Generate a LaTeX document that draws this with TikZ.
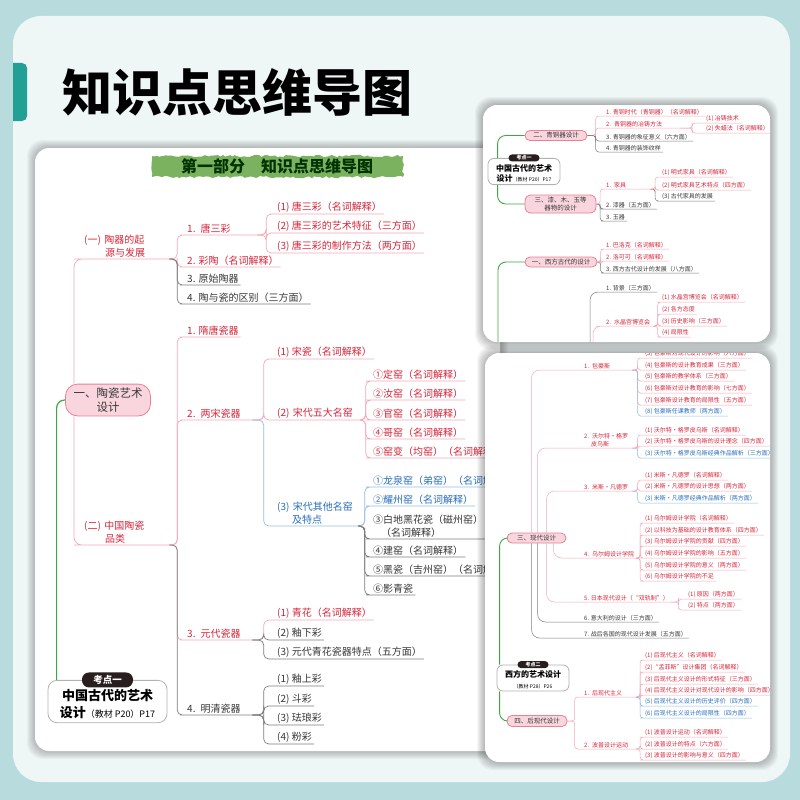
\documentclass[tikz,border=0pt]{standalone}
\usepackage{fontspec}
\setmainfont{Noto Sans CJK SC}
\usepackage{tikz}
\usetikzlibrary{calc,positioning,decorations.pathmorphing}

\definecolor{tealbg}{RGB}{184,220,222}
\definecolor{panel}{RGB}{239,246,246}
\definecolor{tabc}{RGB}{35,160,150}
\definecolor{rdT}{RGB}{214,38,58}
\definecolor{rdL}{RGB}{244,168,184}
\definecolor{gyT}{RGB}{55,55,55}
\definecolor{gyL}{RGB}{125,125,125}
\definecolor{blT}{RGB}{40,110,185}
\definecolor{blL}{RGB}{150,190,230}
\definecolor{bxF}{RGB}{249,214,222}
\definecolor{bxL}{RGB}{232,128,150}
\definecolor{grnL}{RGB}{60,170,65}
\definecolor{bnr}{RGB}{122,178,96}
\definecolor{pill}{RGB}{40,30,30}

\newcommand{\fA}{\fontsize{10}{13}\selectfont}
\newcommand{\fB}{\fontsize{6}{7.5}\selectfont}
\def\lw{.7pt}
\def\rc{5pt}
% bracket link: parent junction -> child underline
\newcommand{\lnk}[3][rdL]{\draw[ln=#1] (#2) -| ($(#2)!.5!(#3.south west)$) |- (#3.south west) -- (#3.south east);}
% straight trunk link
\newcommand{\lnkv}[3][rdL]{\draw[ln=#1, rounded corners=8pt] (#2) |- (#3.south west) -- (#3.south east);}

\tikzset{
  ln/.style={draw=#1, line width=\lw, rounded corners=\rc},
  lf/.style={anchor=south west, inner xsep=2pt, inner ysep=1.2pt, align=left},
  bx/.style={draw=bxL, fill=bxF, line width=.8pt, align=center, text=gyT},
  kd/.style={draw=gray!60, fill=white, line width=.8pt, align=center, text=black},
  kp/.style={fill=pill, text=white, inner sep=0pt},
  grn/.style={draw=grnL, line width=1.2pt, rounded corners=8pt},
  card/.style={fill=white, rounded corners=14pt},
}

\begin{document}
\begin{tikzpicture}[x=1pt, y=-1pt]
\useasboundingbox (0,0) rectangle (800,800);
\fill[tealbg] (0,0) rectangle (800,800);
\fill[panel, rounded corners=28pt] (13,16) rectangle (790,782);
\begin{scope}
  \clip (13,0) rectangle (40,800);
  \fill[tabc, rounded corners=5pt] (0,63) rectangle (27,121);
\end{scope}
\node[anchor=west, inner sep=0pt, font=\fontsize{50}{50}\selectfont\bfseries] (ttl) at (62,92) {知识点思维导图};

% ---- left page
\foreach \k in {1,...,8}
  \fill[black, opacity=.03, rounded corners=16pt] (35-\k,148-\k) rectangle (500+\k,751+\k);
\fill[card] (35,148) rectangle (500,751);
\begin{scope}
\clip[rounded corners=14pt] (35,148) rectangle (500,751);
\pgfmathsetseed{11}
\fill[bnr, decorate, decoration={random steps, segment length=3pt, amplitude=1.2pt}] (152,156) rectangle (403,177);
\node[font=\fontsize{16}{16}\selectfont\bfseries, text=black!80!green] (bn) at (277,166) {第一部分　知识点思维导图};

\node[bx, minimum width=85pt, minimum height=30pt, rounded corners=12pt, font=\fontsize{11.5}{14.5}\selectfont] (tc) at (108,400) {一、陶瓷艺术\\设计};
\node[kd, minimum width=119pt, inner ysep=3.5pt, rounded corners=9pt, font=\fontsize{13}{17}\selectfont\bfseries] (kd1) at (107.5,701.5) {\rule{0pt}{17pt}中国古代的艺术\\设计{\fontsize{9}{17}\mdseries\selectfont（教材 P20）P17}};
\node[kp, minimum width=51pt, minimum height=15pt, rounded corners=7pt, font=\fontsize{9.5}{10}\selectfont\bfseries] (kp1) at (kd1.north) {考点一};
\draw[grn] (tc.west) -| ([xshift=9pt]kd1.north west);

\node[lf, text=rdT, font=\fA, text width=83pt] (t1) at (82,259) {(一) 陶器的起\\\hspace*{21pt}源与发展};
\node[lf, text=rdT, font=\fA, text width=83pt] (t2) at (82,545) {(二) 中国陶瓷\\\hspace*{21pt}品类};
\lnkv{[xshift=-34pt]tc.north}{t1}
\lnkv{[xshift=-34pt]tc.south}{t2}

\node[lf, text=rdT, font=\fA, text width=68pt] (b1) at (185,235) {1. 唐三彩};
\lnk{t1.south east}{b1}
\foreach \n/\y/\cl/\t in {b2/267/rd/{2. 彩陶（名词解释）}, b3/285/gy/{3. 原始陶器}, b4/304/gy/{4. 陶与瓷的区别（三方面）}}{
  \node[lf, text=\cl T, font=\fA] (\n) at (185,\y) {\t};
  \lnk[\cl L]{t1.south east}{\n}
}
\foreach \n/\y/\t in {a1/214/{(1) 唐三彩（名词解释）}, a2/233/{(2) 唐三彩的艺术特征（三方面）}, a3/253/{(3) 唐三彩的制作方法（两方面）}}{
  \node[lf, text=rdT, font=\fA] (\n) at (275,\y) {\t};
  \lnk{b1.south east}{\n}
}

\node[lf, text=rdT, font=\fA] (c1) at (185,337) {1. 隋唐瓷器};
\node[lf, text=rdT, font=\fA, text width=63pt] (c2) at (185,420) {2. 两宋瓷器};
\node[lf, text=rdT, font=\fA, text width=63pt] (c3) at (185,640) {3. 元代瓷器};
\node[lf, text=gyT, font=\fA, text width=63pt] (c4) at (185,715) {4. 明清瓷器};
\lnk{t2.south east}{c1}
\lnk{t2.south east}{c2}
\lnk{t2.south east}{c3}
\lnk[gyL]{t2.south east}{c4}

\node[lf, text=rdT, font=\fA] (d1) at (275,359) {(1) 宋瓷（名词解释）};
\node[lf, text=rdT, font=\fA, text width=81pt] (d2) at (275,420) {(2) 宋代五大名窑};
\node[lf, text=blT, font=\fA, text width=79pt] (d3) at (275,526) {(3) 宋代其他名窑\\\hspace*{15pt}及特点};
\lnk{c2.south east}{d1}
\lnk{c2.south east}{d2}
\lnk[blL]{c2.south east}{d3}

\foreach \n/\y/\t in {e1/381/{①定窑（名词解释）}, e2/400/{②汝窑（名词解释）}, e3/420/{③官窑（名词解释）}, e4/439/{④哥窑（名词解释）}, e5/458/{⑤窑变（均窑）（名词解释）}}{
  \node[lf, text=rdT, font=\fA] (\n) at (371,\y) {\t};
  \lnk{d2.south east}{\n}
}
\foreach \n/\y/\cl/\t in {f1/487/bl/{①龙泉窑（弟窑）（名词解释）}, f2/506/bl/{②耀州窑（名词解释）}, f3/539/gy/{③白地黑花瓷（磁州窑）\\\hspace*{8pt}（名词解释）}, f4/557/gy/{④建窑（名词解释）}, f5/576/gy/{⑤黑瓷（吉州窑）（名词解释）}, f6/595/gy/{⑥影青瓷}}{
  \node[lf, text=\cl T, font=\fA] (\n) at (371,\y) {\t};
  \lnk[\cl L]{d3.south east}{\n}
}
\foreach \n/\y/\cl/\t in {g1/620/rd/{(1) 青花（名词解释）}, g2/640/gy/{(2) 釉下彩}, g3/659/gy/{(3) 元代青花瓷器特点（五方面）}}{
  \node[lf, text=\cl T, font=\fA] (\n) at (275,\y) {\t};
  \lnk[\cl L]{c3.south east}{\n}
}
\foreach \n/\y/\t in {h1/686/{(1) 釉上彩}, h2/706/{(2) 斗彩}, h3/725/{(3) 珐琅彩}, h4/744/{(4) 粉彩}}{
  \node[lf, text=gyT, font=\fA] (\n) at (275,\y) {\t};
  \lnk[gyL]{c4.south east}{\n}
}
\end{scope}

% ---- right top page
\foreach \k in {1,...,8}
  \fill[black, opacity=.035, rounded corners=16pt] (483-\k,105-\k) rectangle (770+\k,342+\k);
\fill[card] (483,105) rectangle (770,342);
\begin{scope}
\clip[rounded corners=14pt] (483,105) rectangle (770,342);
\def\lw{.5pt}
\def\rc{3pt}
\node[kd, minimum width=72pt, inner ysep=2.2pt, rounded corners=6pt, font=\fontsize{8}{10.5}\selectfont\bfseries] (kr) at (524,171.5) {\rule{0pt}{10.6pt}中国古代的艺术\\设计{\fontsize{5}{10.5}\mdseries\selectfont（教材 P20）P17}};
\node[kp, minimum width=31pt, minimum height=7pt, rounded corners=3.5pt, font=\fontsize{5}{5}\selectfont\bfseries] (kp2) at (kr.north) {考点一};
\node[bx, minimum width=62pt, minimum height=10pt, inner sep=1pt, rounded corners=5pt, font=\fontsize{6.5}{8}\selectfont] (qa) at (556,135.5) {二、青铜器设计};
\node[bx, minimum width=71pt, minimum height=18pt, inner sep=1pt, rounded corners=6pt, font=\fontsize{6.5}{8}\selectfont] (qb) at (560.5,204) {三、漆、木、玉等\\器物的设计};
\node[bx, minimum width=72pt, minimum height=10pt, inner sep=1pt, rounded corners=5pt, font=\fontsize{6.5}{8}\selectfont] (qc) at (561,262) {一、西方古代的设计};
\coordinate (gr1) at (498,360);
\coordinate (er) at (590,370);
\draw[grn, line width=.9pt] ([xshift=10pt]kr.north west) |- (qa.west);
\draw[grn, line width=.9pt] ([xshift=10pt]kr.south west) |- (qb.west);
\draw[grn, line width=.9pt] (qc.west) -| (gr1);

\node[lf, text=rdT, font=\fB, text width=72pt] (q2) at (604,128) {2. 青铜器的冶铸方法};
\lnk{qa.east}{q2}
\foreach \n/\y/\cl/\t in {q1/116/rd/{1. 青铜时代（青铜器）（名词解释）}, q3/141/gy/{3. 青铜器的象征意义（六方面）}, q4/152/gy/{4. 青铜器的装饰纹样}}{
  \node[lf, text=\cl T, font=\fB] (\n) at (604,\y) {\t};
  \lnk[\cl L]{qa.east}{\n}
}
\foreach \n/\y/\t in {r1/123/{(1) 冶铸技术}, r2/133/{(2) 失蜡法（名词解释）}}{
  \node[lf, text=rdT, font=\fB] (\n) at (704,\y) {\t};
  \lnk{q2.south east}{\n}
}
\node[lf, text=rdT, font=\fB, text width=42pt] (j1) at (604,189) {1. 家具};
\lnk{qb.east}{j1}
\foreach \n/\y/\t in {j2/209/{2. 漆器（五方面）}, j3/221/{3. 玉器}}{
  \node[lf, text=gyT, font=\fB] (\n) at (604,\y) {\t};
  \lnk[gyL]{qb.east}{\n}
}
\foreach \n/\y/\cl/\t in {k1/177/rd/{(1) 明式家具（名词解释）}, k2/190/rd/{(2) 明式家具艺术特点（四方面）}, k3/201/gy/{(3) 古代家具的发展}}{
  \node[lf, text=\cl T, font=\fB] (\n) at (660,\y) {\t};
  \lnk[\cl L]{j1.south east}{\n}
}
\foreach \n/\y/\cl/\t in {m1/249/rd/{1. 巴洛克（名词解释）}, m2/261/rd/{2. 洛可可（名词解释）}, m3/273/gy/{3. 西方古代设计的发展（八方面）}}{
  \node[lf, text=\cl T, font=\fB] (\n) at (604,\y) {\t};
  \lnk[\cl L]{qc.east}{\n}
}
\node[lf, text=gyT, font=\fB] (w1) at (604,292) {1. 背景（三方面）};
\node[lf, text=rdT, font=\fB, text width=47pt] (w2) at (604,326) {2. 水晶宫博览会};
\lnkv[gyL]{er}{w1}
\lnkv{[xshift=3pt]er}{w2}
\foreach \n/\y/\t in {v1/302/{(1) 水晶宫博览会（名词解释）}, v2/314/{(2) 各方态度}, v3/326/{(3) 历史影响（三方面）}, v4/337/{(4) 局限性}}{
  \node[lf, text=rdT, font=\fB] (\n) at (660,\y) {\t};
  \lnk{w2.south east}{\n}
}
\end{scope}

% ---- right bottom page
\foreach \k in {1,...,8}
  \fill[black, opacity=.035, rounded corners=16pt] (485-\k,353-\k) rectangle (770+\k,762+\k);
\fill[card] (485,353) rectangle (770,762);
\begin{scope}
\clip[rounded corners=14pt] (485,353) rectangle (770,762);
\def\lw{.5pt}
\def\rc{3pt}
\node[bx, minimum width=59pt, minimum height=10pt, inner sep=1pt, rounded corners=5pt, font=\fontsize{6.5}{8}\selectfont] (xd) at (536.5,538) {三、现代设计};
\node[bx, minimum width=60pt, minimum height=11pt, inner sep=1pt, rounded corners=5pt, font=\fontsize{6.5}{8}\selectfont] (xe) at (537,721) {四、后现代设计};
\node[kd, minimum width=72pt, inner ysep=2.2pt, rounded corners=6pt, font=\fontsize{8}{10.5}\selectfont\bfseries] (kq) at (533,678) {\rule{0pt}{10.6pt}西方的艺术设计\\{\fontsize{5}{10.5}\mdseries\selectfont（教材 P28）P26}};
\node[kp, minimum width=31pt, minimum height=7pt, rounded corners=3.5pt, font=\fontsize{5}{5}\selectfont\bfseries] (kp3) at (kq.north) {考点二};
\draw[grn, line width=.9pt] ([xshift=3pt]kq.north west) |- (xd.west);
\draw[grn, line width=.9pt] ([xshift=3pt]kq.south west) |- (xe.west);

\node[lf, text=rdT, font=\fB, text width=46pt] (p1) at (582,370) {1. 包豪斯};
\node[lf, text=rdT, font=\fB, text width=46pt] (p2) at (582,448) {2. 沃尔特·格罗\\\hspace*{7pt}皮乌斯};
\node[lf, text=rdT, font=\fB, text width=46pt] (p3) at (582,491) {3. 米斯·凡德罗};
\node[lf, text=rdT, font=\fB, text width=51pt] (p4) at (582,558) {4. 乌尔姆设计学院};
\node[lf, text=rdT, font=\fB] (p5) at (582,602) {5. 日本现代设计（“双轨制”）};
\node[lf, text=gyT, font=\fB] (p6) at (582,622) {6. 意大利的设计（三方面）};
\node[lf, text=gyT, font=\fB] (p7) at (582,638) {7. 战后各国的现代设计发展（五方面）};
\lnkv{[xshift=-5pt]xd.north}{p1}
\lnkv{[xshift=1pt]xd.north}{p2}
\lnkv{[xshift=10pt]xd.north}{p3}
\lnkv{[xshift=17pt]xd.south}{p4}
\lnkv{[xshift=10pt]xd.south}{p5}
\lnkv[gyL]{[xshift=1pt]xd.south}{p6}
\lnkv[gyL]{[xshift=-5pt]xd.south}{p7}

\foreach \n/\y/\cl/\t in {s3/358/rd/{(3) 包豪斯对现代设计的影响（六方面）}, s4/370/rd/{(4) 包豪斯的设计教育成果（三方面）}, s5/381/rd/{(5) 包豪斯的教学体系（三方面）}, s6/393/rd/{(6) 包豪斯对设计教育的影响（七方面）}, s7/405/rd/{(7) 包豪斯设计教育的局限性（五方面）}, s8/416/bl/{(8) 包豪斯任课教师（两方面）}}{
  \node[lf, text=\cl T, font=\fB] (\n) at (643,\y) {\t};
  \lnk[\cl L]{p1.south east}{\n}
}
\foreach \n/\y/\cl/\t in {u1/435/rd/{(1) 沃尔特·格罗皮乌斯（名词解释）}, u2/446/rd/{(2) 沃尔特·格罗皮乌斯的设计理念（四方面）}, u3/458/bl/{(3) 沃尔特·格罗皮乌斯经典作品解析（三方面）}}{
  \node[lf, text=\cl T, font=\fB] (\n) at (643,\y) {\t};
  \lnk[\cl L]{p2.south east}{\n}
}
\foreach \n/\y/\cl/\t in {o1/480/rd/{(1) 米斯·凡德罗（名词解释）}, o2/491/rd/{(2) 米斯·凡德罗的设计思想（两方面）}, o3/503/bl/{(3) 米斯·凡德罗经典作品解析（两方面）}}{
  \node[lf, text=\cl T, font=\fB] (\n) at (643,\y) {\t};
  \lnk[\cl L]{p3.south east}{\n}
}
\foreach \n/\y/\t in {y1/523/{(1) 乌尔姆设计学院（名词解释）}, y2/535/{(2) 以科技为基础的设计教育体系（四方面）}, y3/546/{(3) 乌尔姆设计学院的贡献（四方面）}, y4/558/{(4) 乌尔姆设计学院的影响（五方面）}, y5/570/{(5) 乌尔姆设计学院的意义（两方面）}, y6/581/{(6) 乌尔姆设计学院的不足}}{
  \node[lf, text=rdT, font=\fB] (\n) at (643,\y) {\t};
  \lnk{p4.south east}{\n}
}
\foreach \n/\y/\t in {z1/599/{(1) 原因（两方面）}, z2/610/{(2) 特点（两方面）}}{
  \node[lf, text=rdT, font=\fB] (\n) at (686,\y) {\t};
  \lnk{p5.south east}{\n}
}
\node[lf, text=rdT, font=\fB, text width=51pt] (n1) at (582,697) {1. 后现代主义};
\node[lf, text=rdT, font=\fB, text width=51pt] (n2) at (582,749) {2. 波普设计运动};
\lnk{xe.east}{n1}
\lnk{xe.east}{n2}
\foreach \n/\y/\cl/\t in {l1/660/rd/{(1) 后现代主义（名词解释）}, l2/672/rd/{(2)“孟菲斯”设计集团（名词解释）}, l3/684/rd/{(3) 后现代主义设计的形式特征（三方面）}, l4/695/rd/{(4) 后现代主义设计对现代设计的影响（四方面）}, l5/706/bl/{(5) 后现代主义设计的历史评价（四方面）}, l6/718/bl/{(6) 后现代主义设计的局限性（四方面）}}{
  \node[lf, text=\cl T, font=\fB] (\n) at (643,\y) {\t};
  \lnk[\cl L]{n1.south east}{\n}
}
\foreach \n/\y/\t in {i1/737/{(1) 波普设计运动（名词解释）}, i2/749/{(2) 波普设计的特点（六方面）}, i3/760/{(3) 波普设计的影响与意义（四方面）}}{
  \node[lf, text=rdT, font=\fB] (\n) at (643,\y) {\t};
  \lnk{n2.south east}{\n}
}
\end{scope}
\end{tikzpicture}
\end{document}
